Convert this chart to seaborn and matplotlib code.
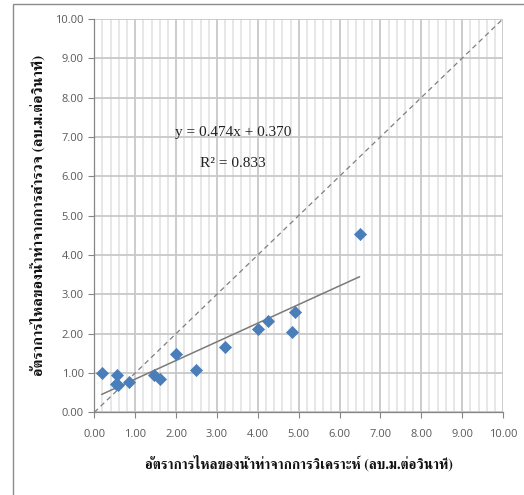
import numpy as np
import pandas as pd
import seaborn as sns
import matplotlib.pyplot as plt
from matplotlib.patches import Rectangle

# values
analysed = [0.18, 0.55, 0.53, 0.58, 0.86, 1.47, 1.61, 1.99, 2.49, 3.19, 4.00, 4.26, 4.84, 4.92, 6.49]
surveyed = [1.01, 0.96, 0.73, 0.69, 0.78, 0.96, 0.84, 1.47, 1.07, 1.65, 2.11, 2.32, 2.04, 2.55, 4.54]
slope = 0.474
intercept = 0.370
r2 = 0.833
ticks = np.arange(0, 10.01, 1.0)

x_label = "อัตราการไหลของน้ำท่าจากการวิเคราะห์ (ลบ.ม.ต่อวินาที)"
y_label = "อัตราการไหลของน้ำท่าจากการสำรวจ (ลบ.ม.ต่อวินาที)"

df = pd.DataFrame({"analysed": analysed, "surveyed": surveyed})
xfit = np.array([min(analysed), max(analysed)])
fit = pd.DataFrame({"x": xfit, "y": slope * xfit + intercept})
one = pd.DataFrame({"x": [0, 10], "y": [0, 10]})

sns.set_theme(style="white")
thai = ['FreeSerif', 'Liberation Serif', 'DejaVu Serif']

fig = plt.figure(figsize=(5.24, 4.95), dpi=100)
ax = fig.add_axes([0.180, 0.167, 0.780, 0.795])

# grid: minor verticals every 0.2, major every 1
ax.set_xticks(ticks)
ax.set_yticks(ticks)
ax.set_xticks(np.arange(0, 10.01, 0.2), minor=True)
ax.grid(which='minor', axis='x', color='#e3e3e3', lw=1.2)
ax.grid(which='major', axis='both', color='#c8c8c8', lw=1.3)
ax.set_axisbelow(True)

sns.lineplot(data=one, x="x", y="y", ax=ax, color='#7f7f7f', lw=0.9, linestyle=(0, (4, 3)))
sns.lineplot(data=fit, x="x", y="y", ax=ax, color='#7a7a7a', lw=1.1)
sns.scatterplot(data=df, x="analysed", y="surveyed", ax=ax, marker='D', s=38,
                color='#4a7ebb', edgecolor='#4a7ebb', linewidth=0.5, zorder=5)

ax.set_xlim(0, 10)
ax.set_ylim(0, 10)
ax.xaxis.set_major_formatter(lambda v, p: f"{v:.2f}")
ax.yaxis.set_major_formatter(lambda v, p: f"{v:.2f}")
ax.tick_params(axis='both', which='major', labelsize=8, labelcolor='#595959', colors='#868686',
               length=4, width=0.8, direction='out', left=True, bottom=True)
ax.tick_params(axis='x', which='minor', length=0)
ax.tick_params(axis='x', pad=8)
for lab in ax.get_xticklabels() + ax.get_yticklabels():
    lab.set_family(['Open Sans', 'DejaVu Sans'])
for s in ['top', 'right']:
    ax.spines[s].set_visible(False)
for s in ['left', 'bottom']:
    ax.spines[s].set_color('#868686')
    ax.spines[s].set_linewidth(0.9)

ax.set_xlabel(x_label, family=thai, fontsize=10, fontweight='bold', labelpad=11, color='#111111')
ax.set_ylabel(y_label, family=thai, fontsize=10.8, fontweight='bold', labelpad=7, color='#111111')

ax.text(3.40, 7.12, f"y = {slope:.3f}x + {intercept:.3f}", family=['Liberation Serif'],
        fontsize=11, ha='center', va='center', color='#222222')
ax.text(3.40, 6.33, f"R² = {r2:.3f}", family=['Liberation Serif'],
        fontsize=11, ha='center', va='center', color='#222222')

# outer chart frame
fig.add_artist(Rectangle((13 / 524, -0.05), 1.2, 1.05 - 4 / 495, transform=fig.transFigure,
                         fill=False, edgecolor='#8c8c8c', lw=1.0))

fig.savefig("out.png", dpi=100)
